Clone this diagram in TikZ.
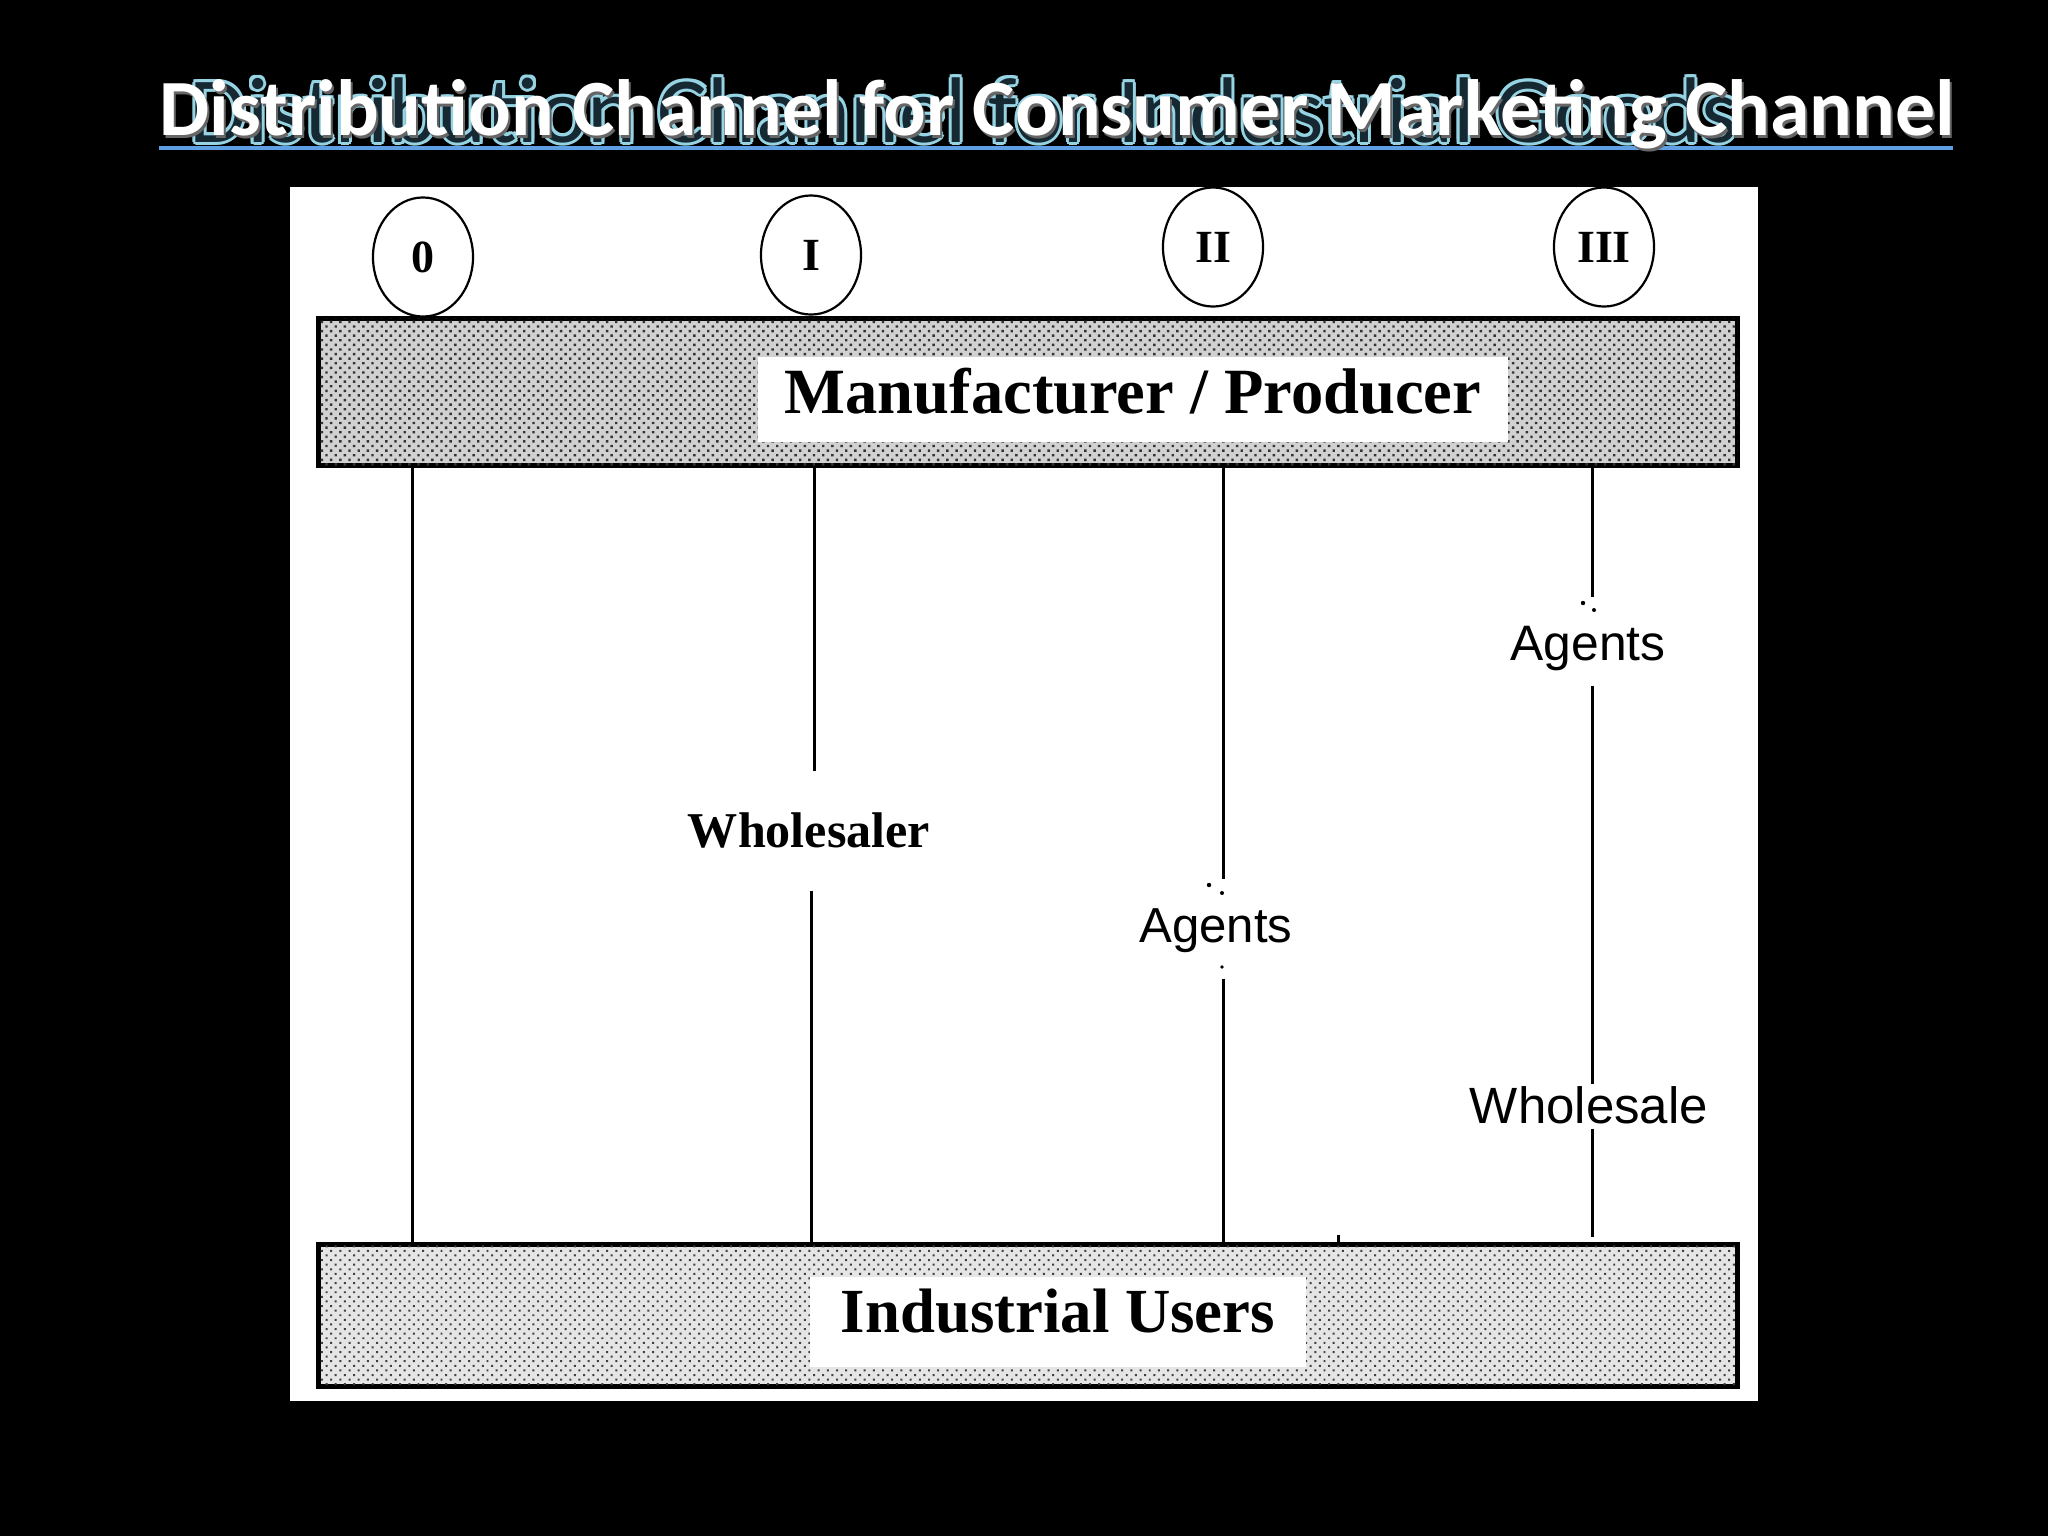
\documentclass[tikz,border=0pt]{standalone}
\usepackage{graphicx}
\usepackage{fontspec}
\setmainfont{Liberation Serif}
\newfontfamily\titlefont{Carlito}
\newfontfamily\arialfont{Liberation Sans}
\usetikzlibrary{shapes.geometric,patterns.meta}
\definecolor{glowcyan}{RGB}{150,212,228}
\definecolor{glowdark}{RGB}{22,40,50}
\definecolor{ulblue}{RGB}{95,160,228}
\newcommand\bluetitle{\resizebox{15.48cm}{!}{\titlefont Distribution Channel for Industrial Goods}}
\newcommand\whitetitle{\resizebox{17.94cm}{!}{\titlefont\bfseries Distribution Channel for Consumer Marketing Channel}}
\tikzset{
  bigbox/.style={draw=black, line width=0.05cm, inner sep=0pt, minimum width=14.18cm},
  labelbox/.style={fill=white, inner sep=0pt, anchor=base},
  vline/.style={draw=black, line width=0.03cm},
  chan/.style={ellipse, draw=black, line width=0.022cm, inner sep=0pt,
    minimum width=1.0cm, minimum height=1.19cm,
    font=\fontsize{13.1pt}{15pt}\selectfont\bfseries},
  midlbl/.style={inner sep=0pt, anchor=base},
  speck/.style={fill=black}
}
\begin{document}
\begin{tikzpicture}[x=0.01cm,y=-0.01cm]
\fill[black] (0,0) rectangle (2048,1536);
\useasboundingbox (0,0) rectangle (2048,1536);

% title
\foreach \dx/\dy [count=\k] in {3/0,2.1/2.1,0/3,-2.1/2.1,-3/0,-2.1/-2.1,0/-3,2.1/-2.1}
  \node[anchor=base west, inner sep=0pt, text=glowcyan] (glow\k) at (189+\dx,142+\dy) {\bluetitle};
\node[anchor=base west, inner sep=0pt, text=glowdark] (bluet) at (189,142) {\bluetitle};
\coordinate (ulA) at (159,148);
\coordinate (ulB) at (1953,148);
\draw[ulblue, line width=0.04cm] (ulA) -- (ulB);
\node[anchor=base west, inner sep=0pt, text=black!60] (wshadow) at (161,138) {\whitetitle};
\node[anchor=base west, inner sep=0pt, text=white] (whitet) at (159,135) {\whitetitle};

% white panel
\fill[white] (290,187) rectangle (1758,1401);

% channel markers
\node[chan] (c0) at (423,257) {0};
\node[chan] (c1) at (811,255) {I};
\node[chan] (c2) at (1213,247) {II};
\node[chan] (c3) at (1604,247) {III};

% boxes
\node[bigbox, fill=black!18, minimum height=1.46cm,
  postaction={pattern={Dots[distance=0.065cm, radius=0.017cm, angle=45]}, pattern color=black!80}] (mfr) at (1028,392) {};
\node[labelbox, minimum width=7.5cm, text height=0.56cm, text depth=0.29cm] (mfrlbl) at (1133,413)
  {\resizebox{6.96cm}{!}{\bfseries Manufacturer / Producer}};
\node[bigbox, fill=black!10, minimum height=1.41cm,
  postaction={pattern={Dots[distance=0.065cm, radius=0.014cm, angle=45]}, pattern color=black!75}] (ind) at (1028,1315.5) {};
\node[labelbox, minimum width=4.95cm, text height=0.55cm, text depth=0.35cm] (indlbl) at (1058,1332)
  {\resizebox{4.34cm}{!}{\bfseries Industrial Users}};

% intermediaries
\node[midlbl, text height=0.75cm, text depth=0.43cm] (whl) at (809,847)
  {\resizebox{2.42cm}{!}{\bfseries Wholesaler}};
\node[midlbl, text height=0.62cm, text depth=0.36cm] (ag2) at (1216,942)
  {\resizebox{1.53cm}{!}{\arialfont Agents}};
\node[midlbl, text height=0.62cm, text depth=0.25cm] (ag3) at (1588,660)
  {\resizebox{1.55cm}{!}{\arialfont Agents}};
\node[midlbl, text height=0.38cm, text depth=0.05cm] (ws) at (1589,1123)
  {\resizebox{2.38cm}{!}{\arialfont Wholesale}};

% line x positions
\coordinate (x0) at (412,0);
\coordinate (x1a) at (814,0);
\coordinate (x1b) at (811,0);
\coordinate (x2) at (1223,0);
\coordinate (x3) at (1592,0);
\coordinate (end3) at (1592,1237);

% channel lines
\draw[vline] (mfr.south -| x0) -- (ind.north -| x0);
\draw[vline] (mfr.south -| x1a) -- (whl.north -| x1a);
\draw[vline] (whl.south -| x1b) -- (ind.north -| x1b);
\draw[vline] (mfr.south -| x2) -- (ag2.north -| x2);
\draw[vline] (ag2.south -| x2) -- (ind.north -| x2);
\draw[vline] (mfr.south -| x3) -- (ag3.north -| x3);
\draw[vline] (ag3.south -| x3) -- (ws.north -| x3);
\draw[vline] (ws.south -| x3) -- (end3);

% small specks of the scan
\coordinate (tickA) at (1338,1235);
\coordinate (tickB) at (1338,1245);
\draw[vline] (tickA) -- (tickB);
\fill[speck] (1209,885) circle (2.2);
\fill[speck] (1222,893) circle (2);
\fill[speck] (1222,967) circle (1.8);
\fill[speck] (1583,603) circle (2.2);
\fill[speck] (1594,610) circle (2);
\end{tikzpicture}
\end{document}
